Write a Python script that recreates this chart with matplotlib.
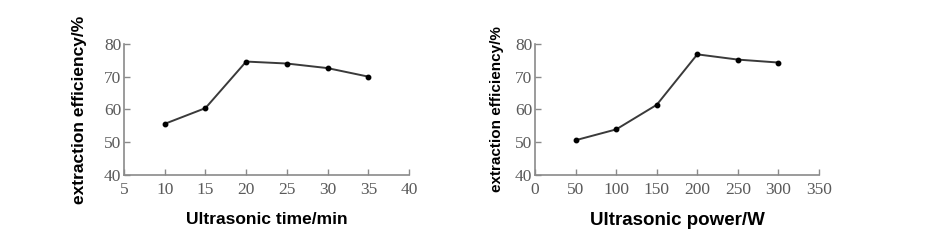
import matplotlib.pyplot as plt

time_min = [10, 15, 20, 25, 30, 35]
eff_time = [55.6, 60.4, 74.6, 74.0, 72.6, 70.0]

power_w = [50, 100, 150, 200, 250, 300]
eff_power = [50.6, 53.9, 61.4, 76.8, 75.2, 74.3]

time_ticks = [5, 10, 15, 20, 25, 30, 35, 40]
power_ticks = [0, 50, 100, 150, 200, 250, 300, 350]
y_ticks = [40, 50, 60, 70, 80]


def _style_axes(ax) -> None:
    for side in ("top", "right"):
        ax.spines[side].set_visible(False)
    for side in ("left", "bottom"):
        ax.spines[side].set_color("#8a8a8a")
        ax.spines[side].set_linewidth(1.2)
    ax.tick_params(direction="in", length=4, width=1, colors="#8a8a8a",
                   labelcolor="#5a5a5a", labelsize=12.5)
    ax.tick_params(axis="x", pad=5)
    ax.tick_params(axis="y", pad=2)
    for lab in ax.get_xticklabels() + ax.get_yticklabels():
        lab.set_family("Liberation Serif")


fig = plt.figure(figsize=(9.36, 2.41), dpi=100)
fig.patch.set_facecolor("white")

ax1 = fig.add_axes([0.1325, 0.274, 0.3045, 0.544])
ax1.plot(time_min, eff_time, color="#3a3a3a", linewidth=1.4, marker="o",
         markersize=3.2, markerfacecolor="black", markeredgecolor="black")
ax1.set_xlim(5, 40)
ax1.set_ylim(40, 80)
ax1.set_xticks(time_ticks)
ax1.set_yticks(y_ticks)
_style_axes(ax1)
ax1.set_xlabel("Ultrasonic time/min", family="Liberation Sans", fontweight="bold",
               fontsize=12.5, labelpad=10)
ax1.set_ylabel("extraction efficiency/%", family="Liberation Sans", fontweight="bold",
               fontsize=12.5, labelpad=12)

ax2 = fig.add_axes([0.5716, 0.274, 0.3034, 0.544])
ax2.plot(power_w, eff_power, color="#3a3a3a", linewidth=1.4, marker="o",
         markersize=3.2, markerfacecolor="black", markeredgecolor="black")
ax2.set_xlim(0, 350)
ax2.set_ylim(40, 80)
ax2.set_xticks(power_ticks)
ax2.set_yticks(y_ticks)
_style_axes(ax2)
ax2.set_xlabel("Ultrasonic power/W", family="Liberation Sans", fontweight="bold",
               fontsize=13.5, labelpad=10)
ax2.set_ylabel("extraction efficiency/%", family="Liberation Sans", fontweight="bold",
               fontsize=11, labelpad=8)

fig.savefig("out.png", dpi=100, facecolor=fig.get_facecolor())
plt.close(fig)
